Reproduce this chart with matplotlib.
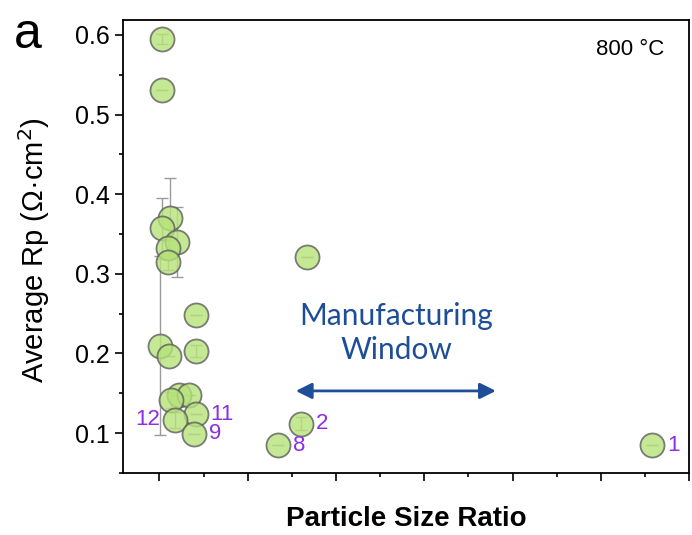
import matplotlib.pyplot as plt
import numpy as np

plt.rcParams['font.family'] = ['Liberation Sans', 'DejaVu Sans']

# particle size ratio (arbitrary axis units) and average Rp at 800 C
ratio = [0.03, 0.03, 0.12, 0.03, 0.20, 0.10, 0.10, 1.67, 0.42, 0.01,
         0.42, 0.11, 0.22, 0.33, 0.13, 0.41, 0.18, 1.60, 0.39, 1.34, 5.58]
rp = [0.595, 0.531, 0.370, 0.357, 0.340, 0.333, 0.315, 0.321, 0.248, 0.210,
      0.203, 0.197, 0.148, 0.148, 0.142, 0.124, 0.117, 0.112, 0.099, 0.085, 0.085]
rp_err = [0.006, 0.0, 0.050, 0.038, 0.044, 0.010, 0.010, 0.0, 0.0, 0.112,
          0.008, 0.0, 0.0, 0.0, 0.010, 0.0, 0.010, 0.008, 0.0, 0.0, 0.0]

# sample numbers written next to some points
labels = {'12': 16, '11': 15, '9': 18, '2': 17, '8': 19, '1': 20}

fig = plt.figure(figsize=(6.92, 5.35), dpi=100)
ax = fig.add_axes([0.178, 0.116, 0.818, 0.847])

ax.errorbar(ratio, rp, yerr=rp_err, fmt='none', ecolor='#9a9a9a',
            elinewidth=1.0, capsize=4, capthick=1.0, zorder=1)
ax.scatter(ratio, rp, s=300, facecolor='#b6e37a', edgecolor='#5e5e5e',
           linewidth=1.3, alpha=0.8, zorder=2)

purple = '#8e2de2'
for txt, i in labels.items():
    if txt == '12':
        ax.text(ratio[i] - 0.17, rp[i], txt, color=purple, fontsize=16,
                ha='right', va='center')
    else:
        ax.text(ratio[i] + 0.17, rp[i], txt, color=purple, fontsize=16,
                ha='left', va='center')

# manufacturing window
blue = '#1f4e99'
ax.annotate('', xy=(1.545, 0.153), xytext=(3.81, 0.153),
            arrowprops=dict(arrowstyle='<|-|>', color=blue, lw=2,
                            mutation_scale=24, shrinkA=0, shrinkB=0))
ax.text(2.68, 0.226, 'Manufacturing\nWindow', color=blue, fontsize=21.5,
        family=['Lato', 'DejaVu Sans'], ha='center', va='center',
        linespacing=1.25)

ax.text(0.896, 0.934, '800 °C', transform=ax.transAxes, fontsize=16,
        ha='center', va='center')

ax.set_xlim(-0.41, 6.0)
ax.set_ylim(0.0525, 0.619)
ax.set_xticks(np.arange(0, 7, 1))
ax.set_xticks(np.arange(0.5, 6, 1), minor=True)
ax.set_xticklabels([])
ax.set_yticks([0.1, 0.2, 0.3, 0.4, 0.5, 0.6])
ax.set_yticks(np.arange(0.05, 0.62, 0.1), minor=True)
ax.tick_params(axis='both', which='major', length=6, width=1.2,
               labelsize=18, direction='out')
ax.tick_params(axis='both', which='minor', length=3, width=1.2,
               direction='out')
for sp in ax.spines.values():
    sp.set_linewidth(1.3)

ax.set_xlabel('Particle Size Ratio', fontsize=20, fontweight='bold',
              labelpad=14)
ax.set_ylabel('Average Rp (Ω·cm$^2$)', fontsize=21)
ax.yaxis.set_label_coords(-0.125, 0.492)

fig.text(0.04, 0.935, 'a', fontsize=36, ha='center', va='center')

fig.savefig('out.png', dpi=100)
